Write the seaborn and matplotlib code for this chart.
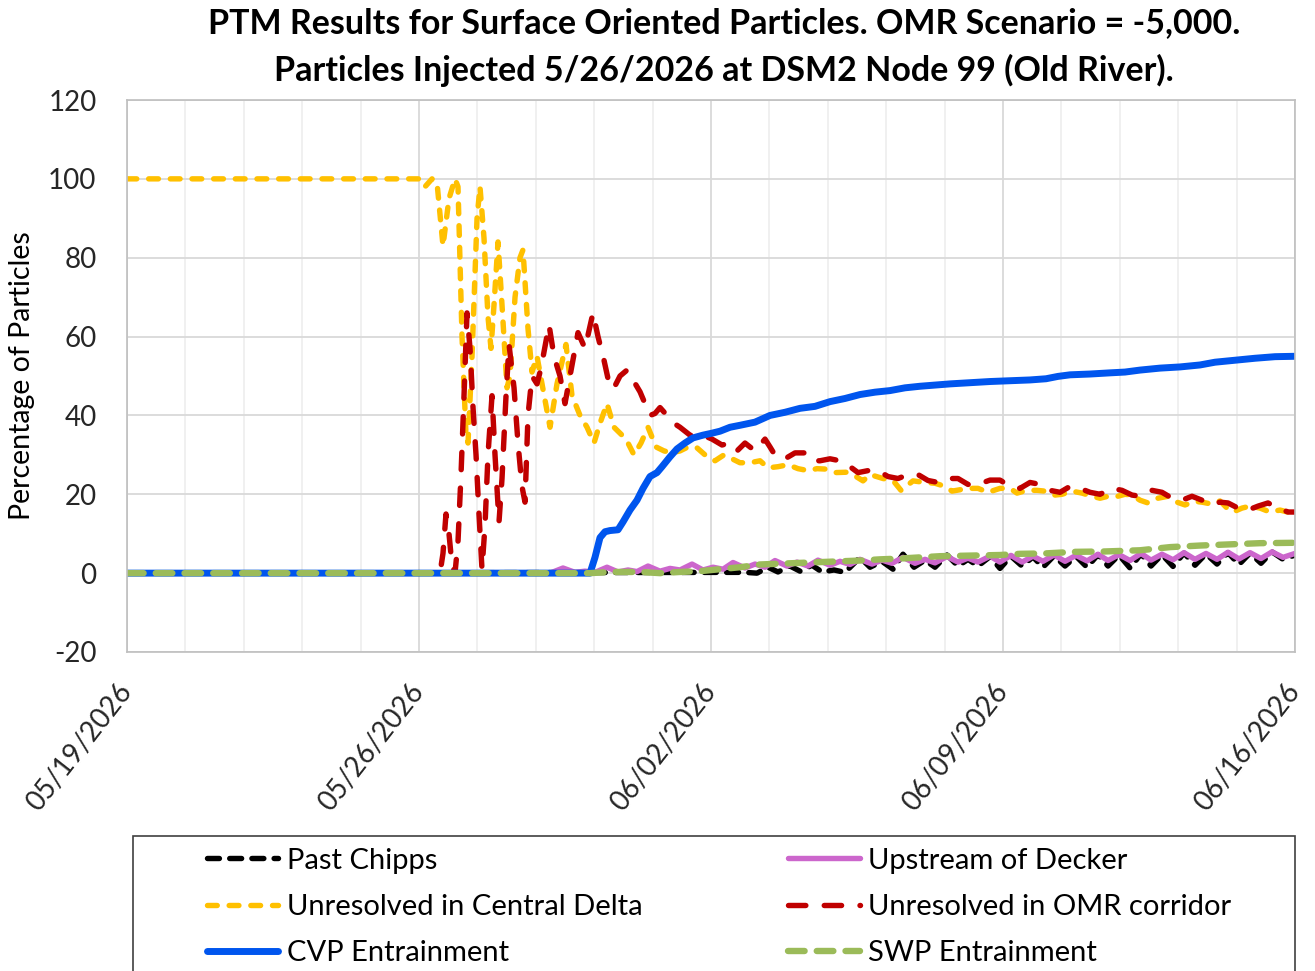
import matplotlib
matplotlib.use("Agg")
import matplotlib.pyplot as plt
from matplotlib.patches import Rectangle
from matplotlib.ticker import MultipleLocator, FixedLocator, NullFormatter
import seaborn as sns

# Time is given in days after 05/19/2026 00:00; values are percentage of particles.
date_ticks = [0, 7, 14, 21, 28]
date_labels = ["05/19/2026", "05/26/2026", "06/02/2026", "06/09/2026", "06/16/2026"]
y_ticks = [-20, 0, 20, 40, 60, 80, 100, 120]

chipps_t = [0, 14.815, 15.103, 15.367, 15.606, 15.894, 16.134, 16.422, 16.661, 16.949,
            17.213, 17.572, 17.812, 18.099, 18.363, 18.603, 18.867, 19.131, 19.370,
            19.658, 19.922, 20.161, 20.401, 20.689, 20.928, 21.192, 21.456, 21.720,
            21.959, 22.223, 22.487, 22.750, 23.014, 23.278, 23.518, 23.781, 24.045,
            24.309, 24.548, 24.812, 25.076, 25.340, 25.603, 25.867, 26.131, 26.394,
            26.658, 26.922, 27.185, 27.449, 27.713, 28.0]
chipps_v = [0, 0.2, 0.0, 1.5, 0.3, 1.8, 0.5, 2.0, 0.3, 0.8,
            0.2, 4.0, 1.5, 3.0, 1.0, 4.8, 1.5, 3.3, 1.5,
            4.6, 1.8, 3.5, 1.8, 4.2, 1.2, 4.3, 1.8, 4.1,
            1.5, 4.4, 1.8, 4.3, 1.5, 4.7, 1.8, 4.6, 1.3,
            4.9, 1.8, 4.7, 1.7, 5.1, 2.0, 4.9, 2.3, 5.2,
            2.2, 5.1, 2.5, 5.4, 3.5, 4.6]

decker_t = [0, 10.141, 10.452, 10.740, 10.980, 11.219, 11.507, 11.771, 12.010, 12.226,
            12.490, 12.778, 13.017, 13.257, 13.545, 13.808, 14.048, 14.288, 14.528,
            14.815, 15.055, 15.295, 15.534, 15.822, 16.062, 16.326, 16.565, 16.853,
            17.093, 17.333, 17.572, 17.860, 18.099, 18.339, 18.603, 18.891, 19.131,
            19.370, 19.658, 19.922, 20.161, 20.401, 20.689, 20.928, 21.192, 21.456,
            21.720, 21.959, 22.223, 22.487, 22.750, 23.014, 23.278, 23.518, 23.781,
            24.045, 24.309, 24.548, 24.812, 25.076, 25.340, 25.603, 25.867, 26.131,
            26.394, 26.658, 26.922, 27.185, 27.449, 27.713, 28.0]
decker_v = [0, 0, 1.3, 0.2, 0.5, 0.2, 1.5, 0.3, 0.8, 0.4,
            1.8, 0.5, 1.2, 0.8, 2.3, 0.8, 1.5, 1.0, 2.7,
            1.3, 2.3, 1.5, 3.2, 1.8, 2.8, 1.8, 3.3, 2.0,
            3.0, 2.2, 3.5, 2.3, 3.3, 2.5, 4.0, 2.5, 3.5,
            2.6, 4.2, 2.8, 3.8, 2.8, 4.3, 2.8, 4.5, 2.8,
            4.3, 3.0, 4.6, 3.0, 4.5, 3.1, 4.8, 3.2, 4.7,
            3.2, 5.0, 3.3, 4.8, 3.4, 5.2, 3.5, 5.0, 3.5,
            5.3, 3.6, 5.2, 3.7, 5.4, 4.0, 5.0]

central_t = [0, 7.024, 7.144, 7.312, 7.432, 7.575, 7.719, 7.863, 7.935, 8.031,
             8.127, 8.175, 8.271, 8.391, 8.462, 8.558, 8.654, 8.726, 8.798, 8.894,
             8.990, 9.110, 9.182, 9.302, 9.421, 9.493, 9.613, 9.709, 9.829, 9.949,
             10.141, 10.308, 10.524, 10.668, 10.860, 11.028, 11.195, 11.339, 11.507,
             11.675, 11.867, 12.010, 12.154, 12.322, 12.490, 12.682, 12.874, 13.065,
             13.257, 13.449, 13.641, 13.856, 14.096, 14.312, 14.504, 14.695, 14.935,
             15.175, 15.367, 15.606, 15.846, 16.086, 16.326, 16.541, 16.733, 16.973,
             17.261, 17.476, 17.644, 17.812, 18.124, 18.363, 18.555, 18.843, 19.131,
             19.370, 19.610, 19.778, 20.161, 20.401, 20.641, 20.928, 21.168, 21.336,
             21.576, 21.815, 22.007, 22.247, 22.415, 22.654, 22.894, 23.134, 23.326,
             23.518, 23.685, 23.925, 24.093, 24.285, 24.476, 24.716, 24.956, 25.172,
             25.363, 25.603, 25.771, 26.011, 26.203, 26.370, 26.514, 26.730, 26.922,
             27.161, 27.401, 27.641, 28.000]
central_v = [100, 100, 98, 100, 99, 83, 95, 100, 98, 60,
             35, 33, 55, 90, 98, 85, 65, 57, 68, 84,
             68, 47, 50, 70, 80, 82, 62, 51, 55, 48,
             37, 48, 58, 45, 40, 37, 33, 38, 43,
             37, 35, 33, 30, 33, 37, 32, 31, 30.5,
             31, 32, 32, 30, 28.5, 30, 29, 28, 28,
             28.5, 26.7, 27, 27.5, 26.5, 26, 26.5, 26.4, 25.5,
             25.6, 24.5, 23.4, 25, 24, 23.5, 21, 23.4, 23,
             22.8, 22, 20.8, 21.5, 21.5, 20.5, 21.5, 21.5, 20.3,
             21, 21, 20.8, 19.8, 20, 20.8, 20.3, 19.5, 19,
             19.5, 19.3, 20, 19.8, 18.5, 17.8, 19, 19.5, 18,
             17.3, 18.2, 18, 17.5, 18.3, 16.5, 15.5, 16.5, 17,
             16.5, 15.5, 16, 15]

omr_t = [0, 7.504, 7.575, 7.647, 7.719, 7.791, 7.863, 7.935, 8.007, 8.079,
         8.151, 8.223, 8.295, 8.367, 8.438, 8.510, 8.582, 8.654, 8.750, 8.822,
         8.918, 8.990, 9.086, 9.158, 9.278, 9.373, 9.469, 9.541, 9.613, 9.709,
         9.829, 9.925, 10.117, 10.236, 10.380, 10.500, 10.620, 10.812, 10.980,
         11.171, 11.291, 11.435, 11.579, 11.675, 11.819, 11.987, 12.130, 12.298,
         12.418, 12.538, 12.658, 12.778, 12.945, 13.113, 13.257, 13.497, 13.641,
         13.808, 14.024, 14.264, 14.456, 14.624, 14.815, 15.055, 15.295, 15.415,
         15.558, 15.774, 16.014, 16.254, 16.422, 16.613, 16.853, 17.093, 17.333,
         17.524, 17.764, 18.004, 18.243, 18.483, 18.723, 18.963, 19.202, 19.442,
         19.682, 19.922, 20.161, 20.401, 20.689, 20.928, 21.168, 21.408, 21.648,
         21.887, 22.127, 22.367, 22.607, 22.846, 23.086, 23.326, 23.613, 23.853,
         24.093, 24.285, 24.572, 24.812, 25.052, 25.292, 25.531, 25.771, 26.011,
         26.203, 26.394, 26.634, 26.874, 27.114, 27.353, 27.593, 27.833, 28.000]
omr_v = [0, 0, 5, 15, 10, 2, 0, 8, 25, 45,
         66, 57, 42, 30, 15, 1, 12, 30, 45, 30,
         13, 24, 45, 58, 47, 33, 22, 18, 40, 50,
         48, 52, 63, 55, 50, 43, 50, 61, 57,
         66, 60, 54, 47, 47, 50, 51.5, 49, 46,
         43, 40, 40.5, 42, 40, 38, 37, 35, 34.5,
         35, 34, 32.5, 33, 31, 33, 31, 34, 32,
         29.5, 29, 30.5, 30.5, 28.5, 28.5, 29, 28.5, 27,
         25.5, 26, 26, 24.5, 24, 25, 25, 23.5, 23,
         24, 24, 22.5, 22.5, 23.6, 23.6, 22, 21.5, 23,
         22.5, 21, 20.5, 22, 21.5, 20.5, 20, 21.5, 21,
         19.8, 19.5, 21, 20.5, 19, 18.5, 19.5, 18.5, 17.5,
         18, 17.8, 16.5, 16, 17, 17.8, 16.5, 15.5, 15.5]

cvp_t = [0, 11.100, 11.219, 11.339, 11.459, 11.579, 11.771, 11.891, 12.058, 12.226,
         12.370, 12.538, 12.706, 12.826, 13.017, 13.185, 13.377, 13.569, 13.808,
         14.024, 14.216, 14.456, 14.695, 15.055, 15.415, 15.774, 16.134, 16.493,
         16.853, 17.213, 17.572, 17.932, 18.291, 18.651, 19.011, 19.370, 19.730,
         20.209, 20.689, 21.168, 21.648, 22.031, 22.319, 22.607, 23.086, 23.566,
         23.925, 24.285, 24.764, 25.244, 25.723, 26.083, 26.562, 27.042, 27.521, 28.0]
cvp_v = [0, 0, 4, 9, 10.5, 10.8, 11, 13, 16, 18.5,
         21.5, 24.5, 25.5, 27, 29.5, 31.5, 33, 34.3, 35,
         35.5, 36, 37, 37.5, 38.3, 40, 40.8, 41.8, 42.3,
         43.5, 44.3, 45.3, 45.9, 46.3, 47.0, 47.4, 47.7, 48.0,
         48.3, 48.6, 48.8, 49, 49.3, 49.9, 50.3, 50.5, 50.8,
         51.0, 51.5, 52.0, 52.3, 52.8, 53.5, 54.0, 54.5, 54.9, 55]

swp_t = [0, 11.100, 11.579, 12.298, 12.778, 13.257, 13.737, 14.216, 14.695, 15.175,
         15.654, 16.134, 16.613, 17.093, 17.572, 18.052, 18.531, 19.011, 19.490,
         19.970, 20.449, 20.928, 21.408, 22.007, 22.727, 23.446, 24.285, 25.004,
         25.723, 26.442, 27.161, 28.0]
swp_v = [0, 0, 0.3, 0.3, 0.0, 0.3, 0.5, 1.0, 1.5, 2.2,
         2.4, 2.6, 2.8, 3.0, 3.2, 3.5, 3.7, 4.0, 4.3,
         4.4, 4.5, 4.6, 4.9, 5.0, 5.4, 5.5, 5.8, 6.6,
         7.0, 7.3, 7.6, 7.7]

series = [
    ("Past Chipps", chipps_t, chipps_v, "#000000", 3.9, (0, (2.2, 1.9))),
    ("Upstream of Decker", decker_t, decker_v, "#CC66CC", 3.9, "-"),
    ("Unresolved in Central Delta", central_t, central_v, "#FFC000", 3.9, (0, (1.8, 2.2))),
    ("Unresolved in OMR corridor", omr_t, omr_v, "#C00000", 3.9, (0, (3.2, 3.4))),
    ("CVP Entrainment", cvp_t, cvp_v, "#0055EE", 5.0, "-"),
    ("SWP Entrainment", swp_t, swp_v, "#9BBB59", 4.6, (0, (2.6, 1.9))),
]

sns.set_theme(style="white")
plt.rcParams["font.family"] = ["Lato", "DejaVu Sans"]
plt.rcParams["text.color"] = "#000000"

fig = plt.figure(figsize=(13.15, 9.71), dpi=100)
W, H = 1315, 971
ax = fig.add_axes([127 / W, 1 - 652 / H, (1295 - 127) / W, (652 - 100) / H])

for name, t, v, color, lw, ls in series:
    sns.lineplot(x=t, y=v, ax=ax, color=color, linewidth=lw, linestyle=ls,
                 sort=False, estimator=None, label=name, legend=False,
                 dash_capstyle="round", solid_capstyle="round",
                 dash_joinstyle="round", solid_joinstyle="round")

ax.set_xlim(0, 28)
ax.set_ylim(-20, 120)
ax.xaxis.set_major_locator(FixedLocator(date_ticks))
ax.set_xticklabels(date_labels)
ax.xaxis.set_minor_locator(MultipleLocator(1.4))
ax.xaxis.set_minor_formatter(NullFormatter())
ax.set_yticks(y_ticks)
ax.set_yticklabels([str(y) for y in y_ticks])
ax.set_xlabel("")
ax.set_ylabel("")

ax.set_axisbelow(True)
ax.grid(which="major", axis="both", color="#D9D9D9", linewidth=1.3)
ax.grid(which="minor", axis="x", color="#ECECEC", linewidth=1.1)
for side in ["left", "bottom", "right", "top"]:
    ax.spines[side].set_color("#BFBFBF")
    ax.spines[side].set_linewidth(1.2)
ax.tick_params(axis="both", which="both", length=0)
ax.tick_params(axis="y", labelsize=20, pad=22)
ax.tick_params(axis="x", labelsize=20, pad=25)
for lab in ax.get_xticklabels():
    lab.set_rotation(52)
    lab.set_ha("right")
    lab.set_va("center")
    lab.set_rotation_mode("anchor")

fig.text(724 / W, 1 - 23 / H,
         "PTM Results for Surface Oriented Particles. OMR Scenario = -5,000.",
         ha="center", va="center", fontsize=24.5, fontweight="bold")
fig.text(724 / W, 1 - 70 / H,
         "Particles Injected 5/26/2026 at DSM2 Node 99 (Old River).",
         ha="center", va="center", fontsize=24.5, fontweight="bold")
fig.text(22 / W, 1 - 376 / H, "Percentage of Particles", rotation=90,
         ha="center", va="center", fontsize=20.5)

handles, labels = ax.get_legend_handles_labels()
order = [0, 2, 4, 1, 3, 5]
fig.legend([handles[i] for i in order], [labels[i] for i in order],
           ncol=2, loc="upper left", bbox_to_anchor=(192 / W, 1 - 833 / H),
           frameon=False, borderpad=0, handlelength=2.45, handletextpad=0.3,
           columnspacing=5.0, labelspacing=0.7, fontsize=21)
fig.patches.append(Rectangle((133 / W, -0.05), (1295 - 133) / W, 0.05 + 1 - 836 / H,
                             transform=fig.transFigure, fill=False,
                             edgecolor="#404040", linewidth=1.2))

fig.savefig("out.png", dpi=100)
